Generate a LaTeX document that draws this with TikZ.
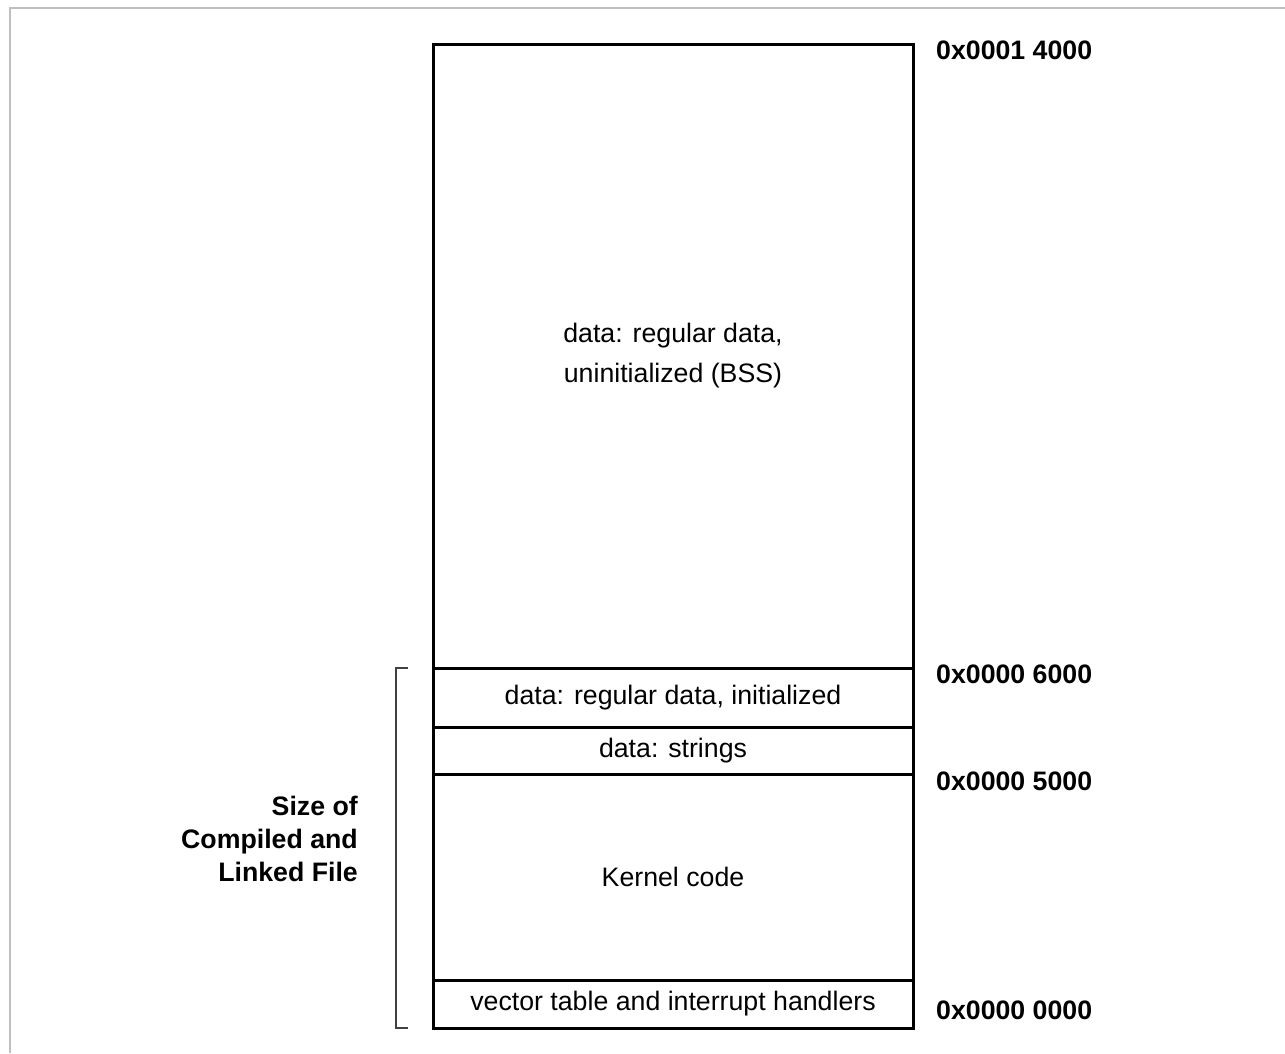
\documentclass[tikz,border=0pt]{standalone}
\usepackage{fontspec}
\setmainfont{Liberation Sans}
\usepackage{tikz}
\usetikzlibrary{calc,positioning}

\begin{document}
\begin{tikzpicture}[
  seg/.style={draw,line width=1.7pt,minimum width=9.6cm,inner sep=0pt,outer sep=0pt,
    align=center,font=\fontsize{15.2}{22.7}\selectfont},
  addr/.style={anchor=west,font=\fontsize{15.2}{18}\selectfont\bfseries},
  bracket/.style={draw=black!75,line width=0.75pt},
  frame/.style={draw=black!25,line width=0.6pt}
]
  \useasboundingbox (0,0) rectangle (25.7,-21.06);
  \draw[frame] (0.2,-21.06) |- (25.7,-0.16);

  % memory segments, top to bottom
  \node[seg,minimum height=12.48cm,anchor=north west] (bss) at (8.66,-0.88)
    {data: regular data,\\uninitialized (BSS)};
  \node[seg,minimum height=1.18cm,below=0pt of bss] (init) {data: regular data, initialized};
  \node[seg,minimum height=0.94cm,below=0pt of init] (str) {data: strings};
  \node[seg,minimum height=4.12cm,below=0pt of str] (kern) {Kernel code};
  \node[seg,minimum height=0.96cm,below=0pt of kern] (vec) {vector table and interrupt handlers};

  % addresses
  \node[addr] (a14000) at ($(bss.north east)+(0.34,-0.12)$) {0x0001 4000};
  \node[addr] (a6000) at ($(init.north east)+(0.34,-0.12)$) {0x0000 6000};
  \node[addr] (a5000) at ($(kern.north east)+(0.34,-0.14)$) {0x0000 5000};
  \node[addr] (a0000) at ($(vec.south east)+(0.34,0.36)$) {0x0000 0000};

  % file size bracket
  \coordinate (brtop) at ($(init.north west)+(-0.74,0)$);
  \coordinate (brbot) at ($(vec.south west)+(-0.74,0)$);
  \draw[bracket] ($(brtop)+(0.24,0)$) -- (brtop) -- (brbot) -- ++(0.24,0);
  \node[anchor=east,align=right,font=\fontsize{15.2}{18.7}\selectfont\bfseries] (size)
    at (7.28,-16.78) {Size of\\Compiled and\\Linked File};
\end{tikzpicture}
\end{document}
